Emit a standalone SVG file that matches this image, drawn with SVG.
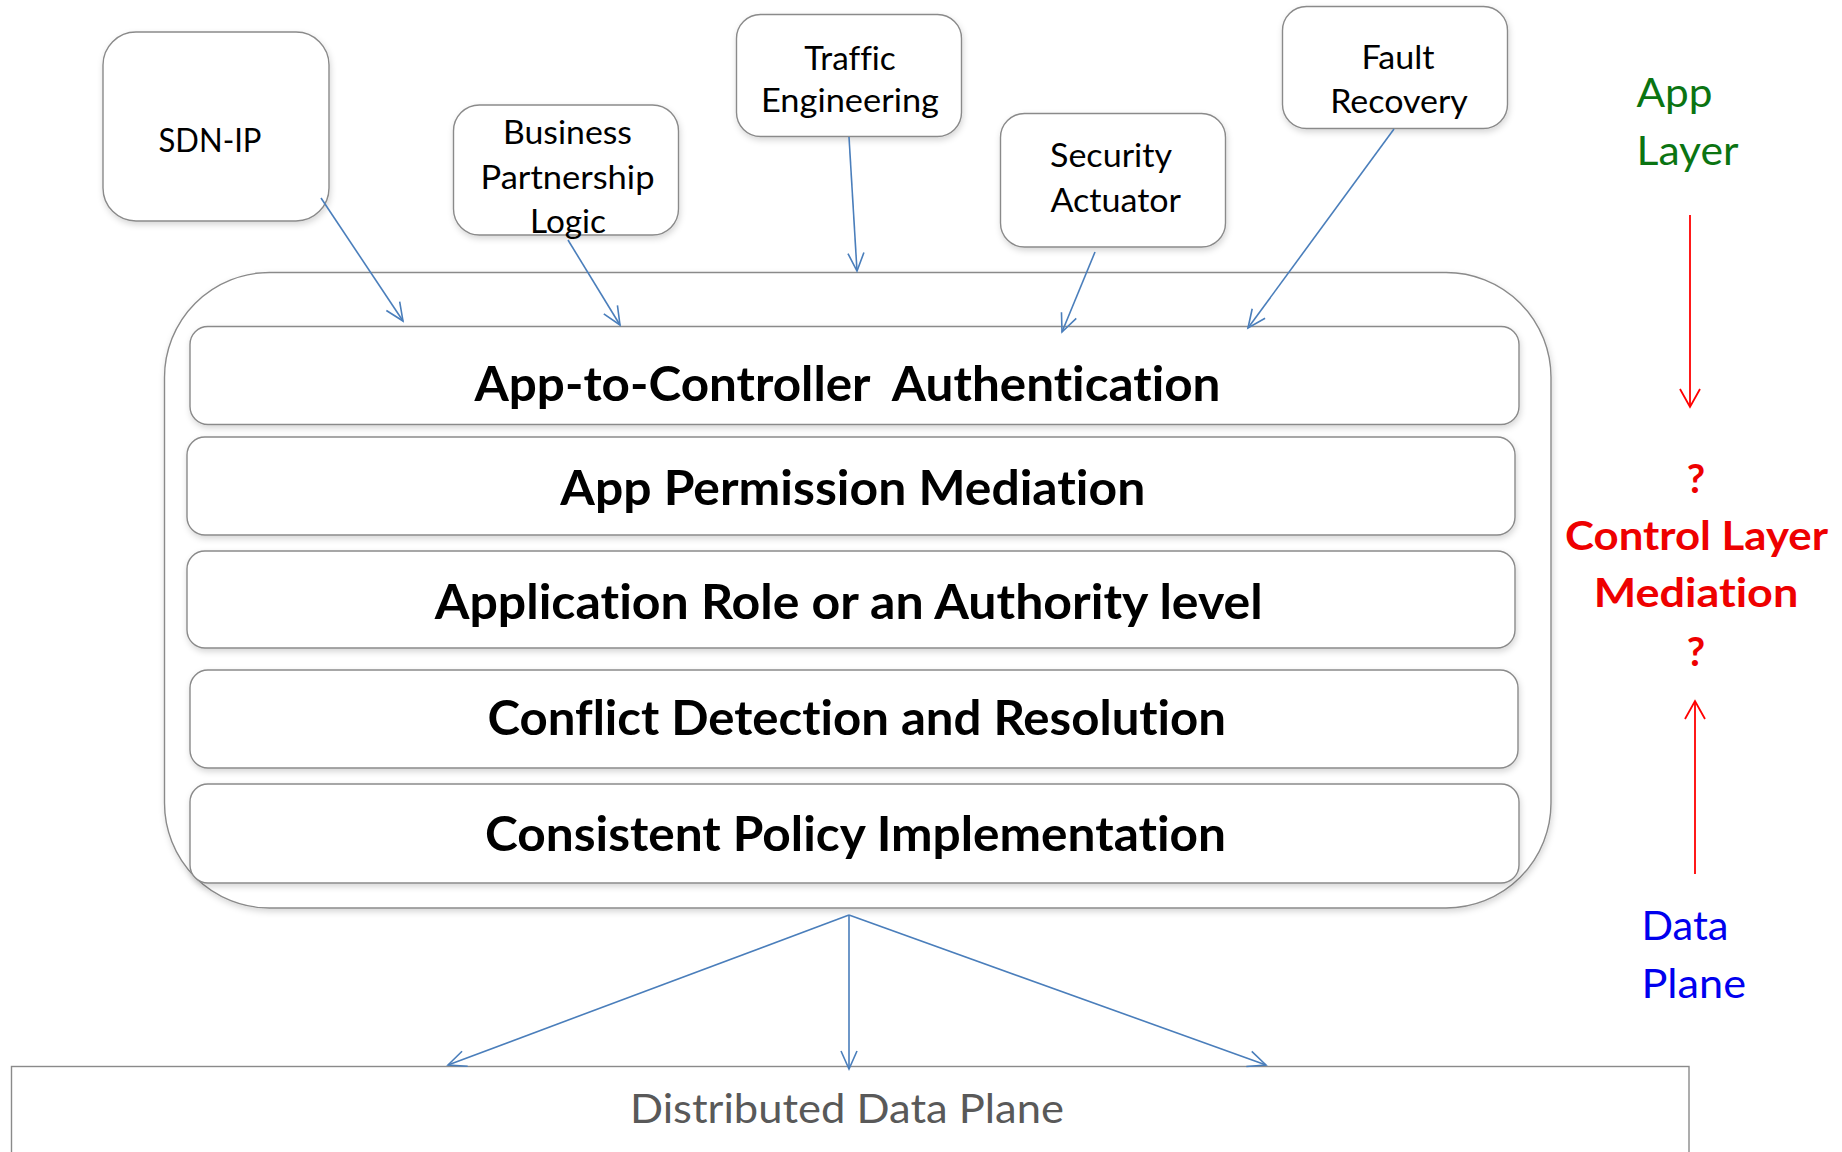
<svg xmlns="http://www.w3.org/2000/svg" width="1842" height="1152" viewBox="0 0 1842 1152">
  <style>
    text { font-variant-ligatures: none; font-feature-settings: "liga" 0, "dlig" 0; }
    .box { fill: #ffffff; stroke: #8a8a8a; stroke-width: 1.4; }
    .app { font-family: Lato, "Open Sans", "Liberation Sans", sans-serif; font-size: 33px; fill: #000000; text-anchor: middle; }
    .layer { font-family: Lato, "Open Sans", "Liberation Sans", sans-serif; font-size: 47px; font-weight: bold; fill: #000000; text-anchor: middle; }
    .flow { fill: none; stroke: #4a7ebb; stroke-width: 1.6; marker-end: url(#headBlue); }
    .tier { fill: none; stroke: #ff0000; stroke-width: 1.8; marker-end: url(#headRed); }
    .side { font-family: Lato, "Open Sans", "Liberation Sans", sans-serif; font-size: 40px; }
    .green { fill: #0b7412; }
    .red { fill: #ee0000; font-weight: bold; text-anchor: middle; }
    .blue { fill: #0000ee; }
    .plane { font-family: Lato, "Open Sans", "Liberation Sans", sans-serif; font-size: 40px; fill: #595959; text-anchor: middle; }
  </style>
  <defs>
    <filter id="soft" x="-5%" y="-10%" width="110%" height="130%">
      <feDropShadow dx="1" dy="3" stdDeviation="3" flood-color="#000000" flood-opacity="0.16"/>
    </filter>
    <marker id="headBlue" markerUnits="userSpaceOnUse" viewBox="-20 -10 22 20" markerWidth="22" markerHeight="20" refX="0" refY="0" orient="auto" overflow="visible">
      <path d="M-18,-8 L0,0 L-18,8" fill="none" stroke="#4a7ebb" stroke-width="1.6"/>
    </marker>
    <marker id="headRed" markerUnits="userSpaceOnUse" viewBox="-20 -12 22 24" markerWidth="22" markerHeight="24" refX="0" refY="0" orient="auto" overflow="visible">
      <path d="M-18,-10 L0,0 L-18,10" fill="none" stroke="#ff0000" stroke-width="1.8"/>
    </marker>
  </defs>

  <!-- controller container with its mediation layers -->
  <g id="controller">
    <rect class="box" filter="url(#soft)" x="164.5" y="272.5" width="1386.5" height="635.5" rx="105" ry="105"/>
  </g>
  <g id="layer-auth">
    <rect class="box" filter="url(#soft)" x="190" y="326.5" width="1329" height="98" rx="18"/>
    <text class="layer" x="847.5" y="401" textLength="746" lengthAdjust="spacingAndGlyphs" xml:space="preserve">App-to-Controller  Authentication</text>
  </g>
  <g id="layer-permission">
    <rect class="box" filter="url(#soft)" x="187" y="437" width="1328" height="98" rx="18"/>
    <text class="layer" x="852.8" y="505" textLength="585" lengthAdjust="spacingAndGlyphs">App Permission Mediation</text>
  </g>
  <g id="layer-role">
    <rect class="box" filter="url(#soft)" x="187" y="551" width="1328" height="97" rx="18"/>
    <text class="layer" x="848.7" y="619" textLength="828" lengthAdjust="spacingAndGlyphs">Application Role or an Authority level</text>
  </g>
  <g id="layer-conflict">
    <rect class="box" filter="url(#soft)" x="190" y="670" width="1328" height="98" rx="18"/>
    <text class="layer" x="856.8" y="735" textLength="738.5" lengthAdjust="spacingAndGlyphs">Conflict Detection and Resolution</text>
  </g>
  <g id="layer-policy">
    <rect class="box" filter="url(#soft)" x="190" y="784" width="1329" height="99" rx="18"/>
    <text class="layer" x="855.5" y="851" textLength="741" lengthAdjust="spacingAndGlyphs">Consistent Policy Implementation</text>
  </g>

  <!-- applications -->
  <g id="app-sdnip">
    <rect class="box" filter="url(#soft)" x="103" y="32" width="226" height="189" rx="33"/>
    <text class="app" x="210" y="152" textLength="103" lengthAdjust="spacingAndGlyphs">SDN-IP</text>
  </g>
  <g id="app-business">
    <rect class="box" filter="url(#soft)" x="453.5" y="105" width="225" height="130" rx="26"/>
    <text class="app" x="567.5" y="144" textLength="129" lengthAdjust="spacingAndGlyphs">Business</text>
    <text class="app" x="567.5" y="189" textLength="174" lengthAdjust="spacingAndGlyphs">Partnership</text>
    <text class="app" x="568" y="233" textLength="76" lengthAdjust="spacingAndGlyphs">Logic</text>
  </g>
  <g id="app-traffic">
    <rect class="box" filter="url(#soft)" x="736.5" y="14.5" width="225" height="122" rx="24"/>
    <text class="app" x="850" y="70" textLength="91.5" lengthAdjust="spacingAndGlyphs">Traffic</text>
    <text class="app" x="850" y="112" textLength="178" lengthAdjust="spacingAndGlyphs">Engineering</text>
  </g>
  <g id="app-security">
    <rect class="box" filter="url(#soft)" x="1000.5" y="113.5" width="225" height="133.5" rx="24"/>
    <text class="app" x="1111" y="167" textLength="122" lengthAdjust="spacingAndGlyphs">Security</text>
    <text class="app" x="1115.7" y="211.5" textLength="130.6" lengthAdjust="spacingAndGlyphs">Actuator</text>
  </g>
  <g id="app-fault">
    <rect class="box" filter="url(#soft)" x="1282.5" y="6.5" width="225" height="122" rx="24"/>
    <text class="app" x="1398" y="69" textLength="73" lengthAdjust="spacingAndGlyphs">Fault</text>
    <text class="app" x="1399" y="113" textLength="137.7" lengthAdjust="spacingAndGlyphs">Recovery</text>
  </g>

  <!-- data plane -->
  <g id="data-plane">
    <rect x="11.5" y="1066.5" width="1677.5" height="120" fill="#ffffff" stroke="#8a8a8a" stroke-width="1.4"/>
    <text class="plane" x="847" y="1123" textLength="434" lengthAdjust="spacingAndGlyphs">Distributed Data Plane</text>
  </g>

  <!-- tier annotations -->
  <g id="tier-labels" class="side">
    <text class="green" x="1636.5" y="107" textLength="76" lengthAdjust="spacingAndGlyphs">App</text>
    <text class="green" x="1636.5" y="164.5" textLength="102" lengthAdjust="spacingAndGlyphs">Layer</text>
    <text class="red" x="1696" y="493">?</text>
    <text class="red" x="1696.5" y="550" textLength="263" lengthAdjust="spacingAndGlyphs">Control Layer</text>
    <text class="red" x="1696" y="607" textLength="204.5" lengthAdjust="spacingAndGlyphs">Mediation</text>
    <text class="red" x="1696" y="666">?</text>
    <text class="blue" x="1641.5" y="940" textLength="87" lengthAdjust="spacingAndGlyphs">Data</text>
    <text class="blue" x="1641.5" y="998" textLength="104.5" lengthAdjust="spacingAndGlyphs">Plane</text>
  </g>

  <!-- connectors -->
  <g id="connectors">
    <path class="flow" d="M321,198 L403,321"/>
    <path class="flow" d="M568,240 L620,325"/>
    <path class="flow" d="M849,137 L857,271"/>
    <path class="flow" d="M1095,252 L1062,332"/>
    <path class="flow" d="M1394,129 L1248,328"/>
    <path class="flow" d="M849,915 L448,1065"/>
    <path class="flow" d="M849,915 L849,1069"/>
    <path class="flow" d="M849,915 L1266,1065"/>
    <path class="tier" d="M1690,215 L1690,407"/>
    <path class="tier" d="M1695,874 L1695,701"/>
  </g>
</svg>
